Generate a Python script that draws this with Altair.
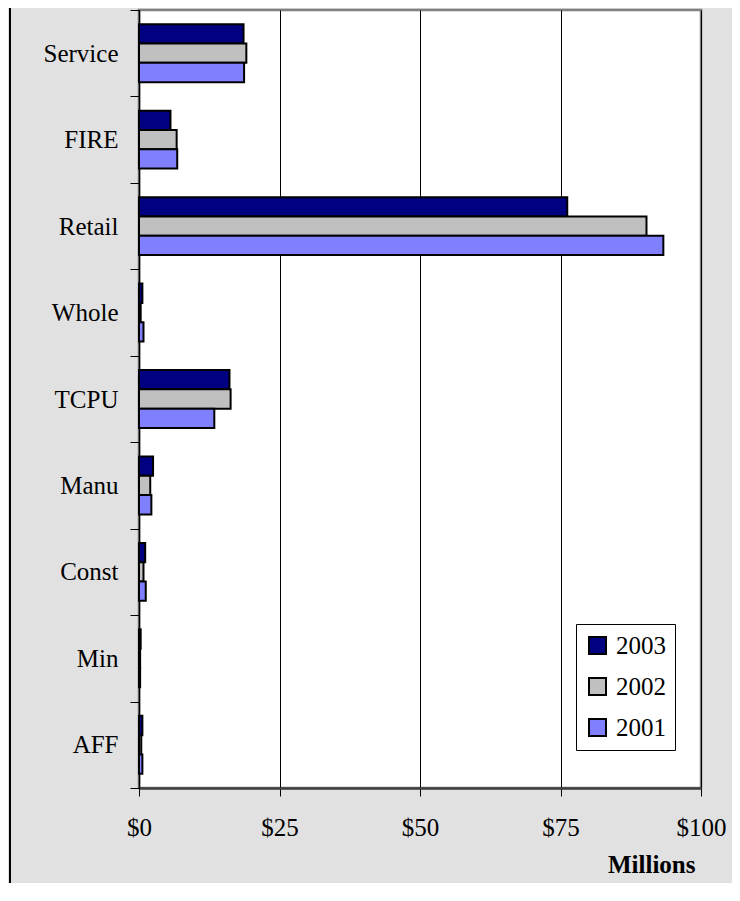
import altair as alt
import pandas as pd

categories = ["Service", "FIRE", "Retail", "Whole", "TCPU", "Manu", "Const", "Min", "AFF"]
years = ["2003", "2002", "2001"]
v2003 = [18.6, 5.6, 76.2, 0.6, 16.1, 2.5, 1.1, 0.3, 0.6]
v2002 = [19.1, 6.7, 90.3, 0.3, 16.3, 2.0, 0.8, 0.2, 0.4]
v2001 = [18.7, 6.8, 93.3, 0.8, 13.4, 2.2, 1.2, 0.2, 0.6]
x_ticks = [0, 25, 50, 75, 100]
colors = ["#000080", "#c0c0c0", "#8080ff"]

rows = []
for yr, vals in zip(years, [v2003, v2002, v2001]):
    for c, v in zip(categories, vals):
        rows.append({"cat": c, "year": yr, "value": v})
df = pd.DataFrame(rows)

FONT = "Liberation Serif"

bars = alt.Chart(df).mark_bar(stroke="black", strokeWidth=2).encode(
    x=alt.X(
        "value:Q",
        scale=alt.Scale(domain=[0, 100], nice=False, zero=True),
        axis=alt.Axis(
            values=x_ticks,
            labelExpr="'$' + datum.value",
            title="Millions",
            titleFont=FONT,
            titleFontSize=25,
            titleFontWeight="bold",
            titleColor="black",
            titleAlign="right",
            titleAnchor="start",
            titleX=556,
            titleY=84,
            titleBaseline="alphabetic",
            labelFont=FONT,
            labelFontSize=25,
            labelColor="black",
            labelBaseline="alphabetic",
            labelPadding=39,
            labelFlush=False,
            tickSize=8,
            tickColor="black",
            tickWidth=1,
            grid=True,
            gridColor="black",
            gridWidth=1,
            gridOpacity=1,
            domainColor="#404040",
            domainWidth=2.5,
        ),
    ),
    y=alt.Y(
        "cat:N",
        sort=categories,
        scale=alt.Scale(paddingInner=0, paddingOuter=0),
        axis=alt.Axis(
            title=None,
            tickBand="extent",
            labelFont=FONT,
            labelFontSize=25,
            labelColor="black",
            labelPadding=12,
            tickSize=9,
            tickColor="black",
            tickWidth=1,
            domainColor="black",
            domainWidth=1.5,
            grid=False,
        ),
    ),
    yOffset=alt.YOffset(
        "year:N",
        sort=years,
        scale=alt.Scale(paddingInner=0, paddingOuter=0.74),
    ),
    fill=alt.Fill(
        "year:N",
        sort=years,
        scale=alt.Scale(domain=years, range=colors),
        legend=alt.Legend(
            orient="none",
            legendX=437,
            legendY=614,
            title=None,
            symbolType="square",
            symbolSize=289,
            symbolStrokeColor="black",
            symbolStrokeWidth=2,
            symbolOpacity=1,
            labelFont=FONT,
            labelFontSize=25,
            labelColor="black",
            labelOffset=6,
            rowPadding=15,
            padding=9,
            strokeColor="black",
            fillColor="white",
            cornerRadius=0,
        ),
    ),
)

border = alt.Chart(pd.DataFrame({"a": [0]})).mark_rule(color="black", strokeWidth=2).encode(
    x=alt.value(-129), y=alt.value(-2), y2=alt.value(873)
)

chart = alt.layer(bars, border).properties(
    width=562,
    height=778,
    autosize=alt.AutoSizeParams(type="none"),
    padding={"left": 131, "top": 2, "right": 31, "bottom": 95},
    background="#e1e1e1",
).configure_view(
    stroke="#808080", strokeWidth=2.5, fill="white"
)

chart.save("out.html", embed_options={"renderer": "svg", "actions": False})
